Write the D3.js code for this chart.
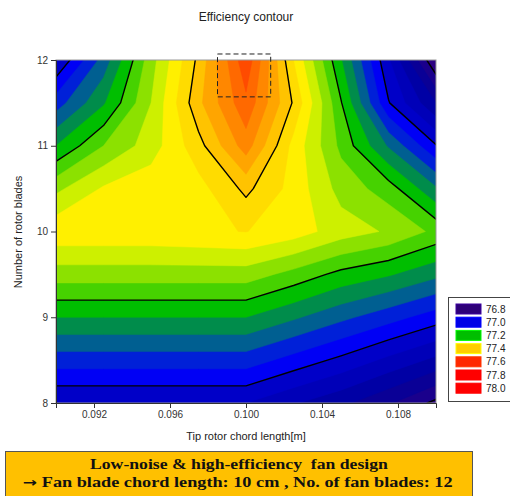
<!DOCTYPE html>
<html>
<head>
<meta charset="utf-8">
<script src="https://cdn.jsdelivr.net/npm/d3@7"></script>
<style>
  html, body { margin: 0; padding: 0; background: #fff; }
  svg { display: block; }
</style>
</head>
<body>
<svg id="chart" width="510" height="496"></svg>
<script>
// ---------- DATA ----------
const xValues = [0.090, 0.0925, 0.095, 0.0975, 0.100, 0.1025, 0.105, 0.1075, 0.110]; // tip rotor chord length [m]
const yValues = [8, 8.5, 9, 9.5, 10, 10.5, 11, 11.5, 12];                              // number of rotor blades
// efficiency [%] on the grid, one array per row (y value), columns follow xValues
const effY8    = [76.96, 76.96, 76.96, 76.96, 76.96, 76.924, 76.89, 76.845, 76.79];
const effY8_5  = [77.06, 77.06, 77.06, 77.06, 77.06, 77.025, 76.99, 76.95, 76.91];
const effY9    = [77.16, 77.16, 77.16, 77.16, 77.16, 77.126, 77.09, 77.056, 77.02];
const effY9_5  = [77.26, 77.26, 77.26, 77.26, 77.26, 77.226, 77.188, 77.164, 77.13];
const effY10   = [77.35, 77.35, 77.35, 77.355, 77.361, 77.34, 77.30, 77.275, 77.23];
const effY10_5 = [77.27, 77.325, 77.345, 77.345, 77.41, 77.345, 77.265, 77.22, 77.125];
const effY11   = [77.16, 77.24, 77.30, 77.385, 77.50, 77.346, 77.23, 77.115, 77.003];
const effY11_5 = [77.06, 77.155, 77.28, 77.43, 77.55, 77.395, 77.203, 77.003, 76.88];
const effY12   = [76.96, 77.096, 77.263, 77.41, 77.59, 77.36, 77.163, 76.965, 76.76];
const effRows = [effY8, effY8_5, effY9, effY9_5, effY10, effY10_5, effY11, effY11_5, effY12];

const xTicks = [0.092, 0.096, 0.100, 0.104, 0.108];
const yTicks = [8, 9, 10, 11, 12];
const lineLevels = [76.8, 77.0, 77.2, 77.4];
const legendLabels = ["76.8", "77.0", "77.2", "77.4", "77.6", "77.8", "78.0"];
const legendColors = ["#2d0078", "#0000e6", "#00be00", "#ffcd00", "#ff2800", "#ff0000", "#ff0000"];

// filled band levels (lower bound) and colours
const bandLevels = [76.68, 76.72, 76.76, 76.80, 76.84, 76.88, 76.92, 76.96, 77.00, 77.04, 77.08, 77.12,
                    77.16, 77.20, 77.24, 77.28, 77.32, 77.36, 77.40, 77.44, 77.48, 77.52, 77.56, 77.60, 77.64];
const bandColors = ["#32006e", "#30007a", "#2d0082", "#1a008c", "#0a0096", "#0000a5", "#0000b8", "#0000c8",
                    "#0000f5", "#0020d8", "#005f91", "#008c4b", "#00be00", "#46d200", "#8ce100", "#cdf000",
                    "#fff000", "#ffdc00", "#ffc300", "#ffa500", "#ff8700", "#ff6900", "#ff4b00", "#ff2800", "#ff0000"];

const boxX = [0.0985, 0.1013];
const boxY = [11.57, 12.07];

// ---------- LAYOUT ----------
const svg = d3.select("#chart");
const pLeft = 56, pRight = 436, pTop = 60, pBottom = 403;
const x = d3.scaleLinear().domain([0.090, 0.110]).range([pLeft, pRight]);
const y = d3.scaleLinear().domain([8, 12]).range([pBottom, pTop]);

const nx = xValues.length, ny = yValues.length;
const dxv = xValues[1] - xValues[0], dyv = yValues[1] - yValues[0];
const grid = effRows.flat();

const proj = d3.geoTransform({
  point: function(gx, gy) {
    this.stream.point(x(xValues[0] + (gx - 0.5) * dxv), y(yValues[0] + (gy - 0.5) * dyv));
  }
});
const path = d3.geoPath(proj);

svg.append("defs").append("clipPath").attr("id", "plotclip")
  .append("rect").attr("x", pLeft).attr("y", pTop).attr("width", pRight - pLeft).attr("height", pBottom - pTop);

const plot = svg.append("g").attr("clip-path", "url(#plotclip)");

// filled bands
const bands = d3.contours().size([nx, ny]).thresholds(bandLevels)(grid);
plot.selectAll("path.band").data(bands).join("path")
  .attr("class", "band")
  .attr("d", path)
  .attr("fill", (d, i) => bandColors[i])
  .attr("stroke", (d, i) => bandColors[i])
  .attr("stroke-width", 0.5);

// contour lines
const lines = d3.contours().size([nx, ny]).thresholds(lineLevels)(grid);
plot.selectAll("path.line").data(lines).join("path")
  .attr("class", "line")
  .attr("d", path)
  .attr("fill", "none")
  .attr("stroke", "#000")
  .attr("stroke-width", 1.4)
  .attr("stroke-linejoin", "round");

// frame
svg.append("rect").attr("x", pLeft).attr("y", pTop).attr("width", pRight - pLeft).attr("height", pBottom - pTop)
  .attr("fill", "none").attr("stroke", "#999").attr("stroke-width", 1);

// axes
const fontSans = "'Liberation Sans', Arial, sans-serif";
const yAxis = svg.append("g").attr("transform", `translate(${pLeft},0)`)
  .call(d3.axisLeft(y).tickValues(yTicks).tickSize(5).tickPadding(3).tickFormat(d3.format("d")));
const xAxis = svg.append("g").attr("transform", `translate(0,${pBottom})`)
  .call(d3.axisBottom(x).tickValues(xTicks).tickSize(5).tickPadding(3).tickFormat(d3.format(".3f")));
[xAxis, yAxis].forEach(a => {
  a.select(".domain").attr("stroke", "#333");
  a.selectAll(".tick line").attr("stroke", "#333");
  a.selectAll("text").attr("font-family", fontSans).attr("font-size", 10).attr("fill", "#333");
});

// titles
svg.append("text").attr("x", 246).attr("y", 21).attr("text-anchor", "middle")
  .attr("font-family", fontSans).attr("font-size", 12).attr("fill", "#222").text("Efficiency contour");
svg.append("text").attr("x", 246).attr("y", 440).attr("text-anchor", "middle")
  .attr("font-family", fontSans).attr("font-size", 11).attr("fill", "#222").text("Tip rotor chord length[m]");
svg.append("text").attr("transform", "translate(22,232) rotate(-90)").attr("text-anchor", "middle")
  .attr("font-family", fontSans).attr("font-size", 11).attr("fill", "#222").text("Number of rotor blades");

// dashed highlight box
svg.append("rect")
  .attr("x", x(boxX[0])).attr("y", y(boxY[1]))
  .attr("width", x(boxX[1]) - x(boxX[0])).attr("height", y(boxY[0]) - y(boxY[1]))
  .attr("fill", "none").attr("stroke", "#222").attr("stroke-width", 1).attr("stroke-dasharray", "5,3");

// legend
const lg = svg.append("g");
lg.append("rect").attr("x", 448.5).attr("y", 297.5).attr("width", 80).attr("height", 104)
  .attr("fill", "#fff").attr("stroke", "#444").attr("stroke-width", 1);
legendLabels.forEach((lab, i) => {
  const cy = 309 + i * 13.2;
  lg.append("rect").attr("x", 456).attr("y", cy - 5).attr("width", 25).attr("height", 10)
    .attr("fill", legendColors[i]).attr("stroke", d3.color(legendColors[i]).brighter(0.8)).attr("stroke-width", 1);
  lg.append("text").attr("x", 486).attr("y", cy + 3.5).attr("font-family", fontSans).attr("font-size", 10)
    .attr("fill", "#222").text(lab);
});

// annotation box
svg.append("rect").attr("x", 5.5).attr("y", 451.5).attr("width", 467).attr("height", 60)
  .attr("fill", "#ffc000").attr("stroke", "#555").attr("stroke-width", 1);
const fontSerif = "'Liberation Serif', 'Times New Roman', serif";

function stretchedLine(parts, xLeft, yBase, targetWidth) {
  const g = svg.append("g");
  const t = g.append("text").attr("x", 0).attr("y", 0)
    .attr("font-family", fontSerif).attr("font-weight", "bold").attr("font-size", 14).attr("fill", "#111")
    .style("white-space", "pre");
  parts.forEach(p => {
    const ts = t.append("tspan").text(p.text);
    if (p.family) ts.attr("font-family", p.family).attr("font-size", p.size || 14);
  });
  const w = t.node().getComputedTextLength();
  const sx = targetWidth / w;
  g.attr("transform", `translate(${xLeft},${yBase}) scale(${sx.toFixed(4)},1)`);
}
stretchedLine([{ text: "Low-noise & high-efficiency  fan design" }], 90, 469, 298);
stretchedLine([{ text: "\u2192", family: "'DejaVu Sans', sans-serif", size: 13 },
               { text: " Fan blade chord length: 10 cm , No. of fan blades: 12" }], 23, 487, 430);
</script>
</body>
</html>
